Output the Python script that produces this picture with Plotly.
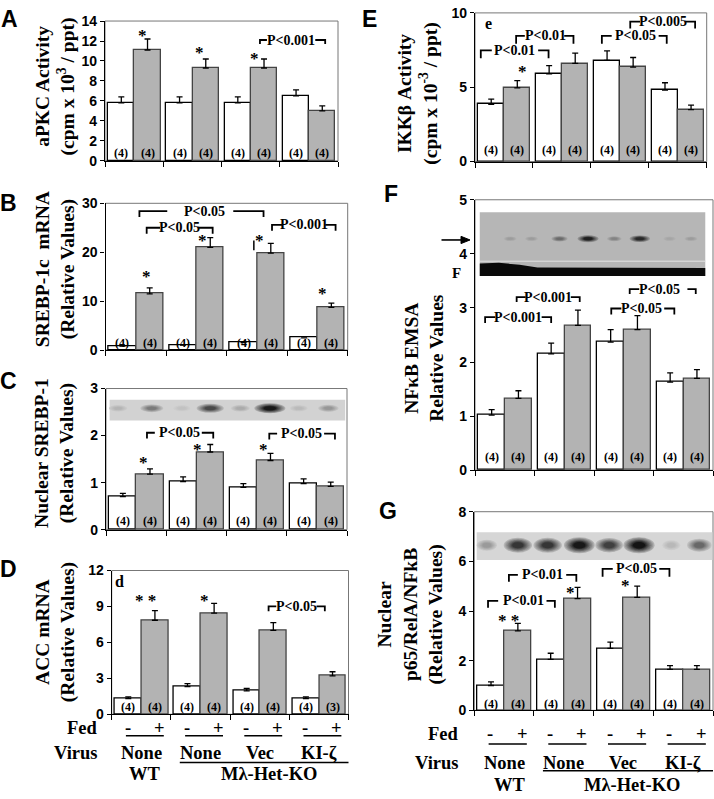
import plotly.graph_objects as go

W, H = 714, 799
SERIF = "Liberation Serif, Times New Roman, serif"
SANS = "Liberation Sans, Arial, sans-serif"

# ---------------- data (groups: WT/None, Mλ/None, Mλ/Vec, Mλ/KI-ζ) ----------------
groups = ["None", "None", "Vec", "KI-ζ"]

A_fasted = [5.8, 5.8, 5.8, 6.5]
A_fasted_err = [0.6, 0.6, 0.6, 0.6]
A_fed = [11.1, 9.3, 9.3, 5.0]
A_fed_err = [1.1, 0.9, 0.9, 0.5]

B_fasted = [0.8, 1.0, 1.5, 2.5]
B_fasted_err = [0.0, 0.0, 0.0, 0.0]
B_fed = [11.5, 21.0, 19.8, 8.7]
B_fed_err = [1.2, 2.0, 2.0, 0.9]

C_fasted = [0.70, 1.02, 0.90, 0.98]
C_fasted_err = [0.07, 0.10, 0.08, 0.10]
C_fed = [1.18, 1.65, 1.47, 0.92]
C_fed_err = [0.11, 0.16, 0.15, 0.09]

D_fasted = [1.3, 2.3, 1.95, 1.3]
D_fasted_err = [0.15, 0.25, 0.2, 0.15]
D_fed = [7.85, 8.45, 7.0, 3.2]
D_fed_err = [0.8, 0.8, 0.65, 0.35]

E_fasted = [3.85, 5.9, 6.8, 4.8]
E_fasted_err = [0.35, 0.55, 0.65, 0.5]
E_fed = [4.95, 6.6, 6.35, 3.5]
E_fed_err = [0.5, 0.7, 0.65, 0.3]

F_fasted = [1.02, 2.15, 2.37, 1.63]
F_fasted_err = [0.1, 0.2, 0.23, 0.17]
F_fed = [1.33, 2.68, 2.6, 1.7]
F_fed_err = [0.14, 0.28, 0.26, 0.16]

G_fasted = [1.0, 2.05, 2.5, 1.65]
G_fasted_err = [0.15, 0.25, 0.25, 0.15]
G_fed = [3.2, 4.5, 4.55, 1.65]
G_fed_err = [0.3, 0.45, 0.45, 0.15]

n_fasted = ["(4)", "(4)", "(4)", "(4)"]
n_fed = ["(4)", "(4)", "(4)", "(4)"]
n_fed_D = ["(4)", "(4)", "(4)", "(3)"]

# blot band intensities (0..1) for the 8 lanes
C_blot = [0.15, 0.45, 0.08, 0.7, 0.2, 0.95, 0.12, 0.3]
F_blot = [0.15, 0.15, 0.45, 0.9, 0.3, 0.85, 0.1, 0.15]
G_blot = [0.3, 0.8, 0.8, 0.95, 0.75, 0.97, 0.15, 0.55]

# ---------------- layout helpers ----------------
def px(x):
    return x / W

def py(y):
    return 1 - y / H

def B(t):
    return "<b>" + t + "</b>"

panels = [
    dict(k="", letter="A", dx=(105, 338), dy=(13.3, 156), ymax=14, dtick=2,
         fa=A_fasted, fae=A_fasted_err, fe=A_fed, fee=A_fed_err, nf=n_fasted, ne=n_fed, nshift=8,
         title="aPKC Activity<br>(cpm x 10<sup>3</sup> / ppt)", txy=(55, 80), lxy=(9, 11)),
    dict(k="2", letter="B", dx=(105.5, 347.7), dy=(199.3, 349), ymax=30, dtick=10,
         fa=B_fasted, fae=B_fasted_err, fe=B_fed, fee=B_fed_err, nf=n_fasted, ne=n_fed, nshift=7.5,
         title="SREBP-1c  mRNA<br>(Relative Values)", txy=(55.5, 267), lxy=(8, 199)),
    dict(k="3", letter="C", dx=(106, 347), dy=(388.3, 532.3), ymax=3, dtick=1,
         fa=C_fasted, fae=C_fasted_err, fe=C_fed, fee=C_fed_err, nf=n_fasted, ne=n_fed, nshift=9,
         title="Nuclear SREBP-1<br>(Relative Values)", txy=(55, 454), lxy=(8, 381)),
    dict(k="4", letter="D", dx=(111.7, 348.5), dy=(574, 720.7), ymax=12, dtick=3,
         fa=D_fasted, fae=D_fasted_err, fe=D_fed, fee=D_fed_err, nf=n_fasted, ne=n_fed_D, nshift=7.5,
         title="ACC mRNA<br>(Relative Values)", txy=(55, 637), lxy=(8.5, 572)),
    dict(k="5", letter="E", dx=(475, 706.7), dy=(5, 156.7), ymax=10, dtick=5,
         fa=E_fasted, fae=E_fasted_err, fe=E_fed, fee=E_fed_err, nf=n_fasted, ne=n_fed, nshift=12,
         title="IKKβ Activity<br>(cpm x 10<sup>-3</sup> / ppt)", txy=(417.5, 88), lxy=(369, 11)),
    dict(k="6", letter="F", dx=(475, 713), dy=(195.7, 471.7), ymax=5, dtick=1,
         fa=F_fasted, fae=F_fasted_err, fe=F_fed, fee=F_fed_err, nf=n_fasted, ne=n_fed, nshift=13,
         title="NFκB EMSA<br>Relative Values", txy=(424, 357), lxy=(391, 190)),
    dict(k="7", letter="G", dx=(474.3, 713), dy=(514, 716.7), ymax=8, dtick=2,
         fa=G_fasted, fae=G_fasted_err, fe=G_fed, fee=G_fed_err, nf=n_fasted, ne=n_fed, nshift=6,
         title="Nuclear<br>p65/RelA/NFkB<br>(Relative Values)", txy=(411, 619), lxy=(388, 513)),
]

X_FASTED = [g + 0.28 for g in range(4)]
X_FED = [g + 0.73 for g in range(4)]
BW = 0.45

fig = go.Figure()
shapes = []
annos = []
layout = {}

for p in panels:
    k = p["k"]
    xr, yr = "x" + k, "y" + k
    fig.add_trace(go.Bar(
        x=X_FASTED, y=p["fa"], width=BW, xaxis=xr, yaxis=yr,
        marker=dict(color="white", line=dict(color="black", width=1.3)),
        error_y=dict(type="data", array=p["fae"], arrayminus=[0] * 4, symmetric=False,
                     color="black", thickness=1.3, width=3),
        showlegend=False, hoverinfo="skip"))
    fig.add_trace(go.Bar(
        x=X_FED, y=p["fe"], width=BW, xaxis=xr, yaxis=yr,
        marker=dict(color="#b3b3b3", line=dict(color="#444444", width=1.3)),
        error_y=dict(type="data", array=p["fee"], arrayminus=[0] * 4, symmetric=False,
                     color="black", thickness=1.3, width=3),
        showlegend=False, hoverinfo="skip"))
    layout["xaxis" + k] = dict(
        domain=[px(p["dx"][0]), px(p["dx"][1])], anchor=yr, range=[0, 4],
        showline=True, linecolor="black", linewidth=1.3, ticks="outside", ticklen=5,
        tickcolor="black", tickwidth=1, tickvals=[0, 1, 2, 3, 4], showticklabels=False,
        showgrid=False, zeroline=False, fixedrange=True)
    layout["yaxis" + k] = dict(
        domain=[py(p["dy"][1]), py(p["dy"][0])], anchor=xr, range=[0, p["ymax"]],
        dtick=p["dtick"], tick0=0, showline=True, linecolor="black", linewidth=1.3,
        ticks="outside", ticklen=4, tickcolor="black", showgrid=False, zeroline=False,
        tickprefix="<b>", ticksuffix="</b>",
        tickfont=dict(family=SANS, size=14, color="black"), fixedrange=True)
    shapes.append(dict(type="rect", xref=xr + " domain", yref=yr + " domain", x0=0, x1=1, y0=0, y1=1,
                       line=dict(color="#777777", width=1), layer="below"))
    for g in range(4):
        for xx, t in ((X_FASTED[g], p["nf"][g]), (X_FED[g], p["ne"][g])):
            annos.append(dict(x=xx, y=0, xref=xr, yref=yr, text=B(t), showarrow=False,
                              yanchor="middle", yshift=p["nshift"],
                              font=dict(family=SERIF, size=12, color="black")))
    annos.append(dict(x=px(p["txy"][0]), y=py(p["txy"][1]), xref="paper", yref="paper",
                      text=B(p["title"]), textangle=-90, showarrow=False, xanchor="center", yanchor="middle",
                      font=dict(family=SERIF, size=19.5, color="black")))
    annos.append(dict(x=px(p["lxy"][0]), y=py(p["lxy"][1]), xref="paper", yref="paper",
                      text=B(p["letter"]), showarrow=False, xanchor="center", yanchor="middle",
                      font=dict(family=SANS, size=23, color="black")))

pan = {p["letter"]: p for p in panels}

def ppu(p):
    return (p["dy"][1] - p["dy"][0]) / p["ymax"]

# ---------------- significance brackets ----------------
# (panel, x_left, x_right, y, left seg end, right seg start, label x, label, tick px)
brackets = [
    ("A", 2.66, 3.78, 12.1, 2.78, 3.61, 3.19, "P<0.001", 4),
    ("B", 0.56, 2.61, 28.4, 1.02, 2.11, 1.63, "P<0.05", 6),
    ("B", 0.68, 1.77, 25.0, 0.90, 1.53, 1.22, "P<0.05", 6),
    ("B", 2.75, 3.80, 25.6, 2.92, 3.63, 3.28, "P<0.001", 6),
    ("C", 0.68, 1.78, 2.06, 0.81, 1.59, 1.22, "P<0.05", 6),
    ("C", 2.71, 3.80, 2.04, 2.84, 3.62, 3.24, "P<0.05", 6),
    ("D", 2.65, 3.60, 9.0, 2.78, 3.46, 3.12, "P<0.05", 5),
    ("E", 0.10, 1.27, 7.48, 0.29, 1.09, 0.69, "P<0.01", 8),
    ("E", 0.71, 1.70, 8.46, 0.86, 1.54, 1.21, "P<0.01", 8),
    ("E", 2.19, 3.31, 8.46, 2.36, 3.17, 2.77, "P<0.05", 8),
    ("E", 2.68, 3.80, 9.41, 2.85, 3.63, 3.24, "P<0.005", 7),
    ("F", 0.17, 1.28, 2.83, 0.34, 1.12, 0.73, "P<0.001", 6),
    ("F", 0.70, 1.76, 3.20, 0.85, 1.61, 1.23, "P<0.001", 5),
    ("F", 2.29, 3.35, 2.99, 2.46, 3.18, 2.80, "P<0.05", 6),
    ("F", 2.60, 3.71, 3.35, 2.76, 3.57, 3.10, "P<0.05", 5),
    ("G", 0.23, 1.35, 4.41, 0.40, 1.21, 0.82, "P<0.01", 7),
    ("G", 0.58, 1.71, 5.46, 0.73, 1.54, 1.14, "P<0.01", 7),
    ("G", 2.15, 3.27, 5.70, 2.32, 3.10, 2.71, "P<0.05", 8),
]
for (L, x1, x2, y, sl, sr, xt, lab, tk) in brackets:
    p = pan[L]
    xr, yr = "x" + p["k"], "y" + p["k"]
    yt = y - tk / ppu(p)
    shapes.append(dict(type="path", xref=xr, yref=yr,
                       path=f"M {x1},{yt} L {x1},{y} L {sl},{y}", line=dict(color="black", width=1.8)))
    shapes.append(dict(type="path", xref=xr, yref=yr,
                       path=f"M {sr},{y} L {x2},{y} L {x2},{yt}", line=dict(color="black", width=1.8)))
    annos.append(dict(x=xt, y=y, xref=xr, yref=yr, text=B(lab), showarrow=False,
                      xanchor="center", yanchor="middle", yshift=0,
                      font=dict(family=SERIF, size=14, color="black")))

# ---------------- asterisks and small labels ----------------
stars = [
    ("A", 0.64, 12.6, "*"), ("A", 1.63, 10.8, "*"), ("A", 2.56, 10.2, "*"),
    ("B", 0.67, 15.0, "*"), ("B", 1.60, 22.4, "*"), ("B", 2.55, 22.4, "*"), ("B", 3.59, 11.5, "*"),
    ("C", 0.62, 1.42, "*"), ("C", 1.52, 1.70, "*"), ("C", 2.61, 1.70, "*"),
    ("D", 0.57, 9.5, "* *"), ("D", 1.56, 9.5, "*"),
    ("E", 0.82, 6.04, "*"),
    ("G", 0.57, 3.62, "* *"), ("G", 1.61, 4.74, "*"), ("G", 2.54, 5.02, "*"),
]
for (L, x, y, t) in stars:
    p = pan[L]
    annos.append(dict(x=x, y=y, xref="x" + p["k"], yref="y" + p["k"], text=B(t), showarrow=False,
                      xanchor="center", yanchor="middle", yshift=0,
                      font=dict(family=SERIF, size=17, color="black")))
shapes.append(dict(type="line", xref="x2", yref="y2", x0=2.45, x1=2.45, y0=20.4, y1=22.4,
                   line=dict(color="black", width=1.5)))
for (L, x, y, t) in (("D", 0.14, 11.1, "d"), ("E", 0.23, 9.3, "e")):
    p = pan[L]
    annos.append(dict(x=x, y=y, xref="x" + p["k"], yref="y" + p["k"], text=B(t), showarrow=False,
                      xanchor="center", yanchor="middle",
                      font=dict(family=SERIF, size=16, color="black")))

# ---------------- blots ----------------
def gray(v):
    v = int(max(0, min(255, v)))
    return f"rgb({v},{v},{v})"

def blot(L, x0, x1, y0, y1, base, lanes, inten, yc, hw, hh):
    p = pan[L]
    xr, yr = "x" + p["k"], "y" + p["k"]
    shapes.append(dict(type="rect", xref=xr, yref=yr, x0=x0, x1=x1, y0=y0, y1=y1,
                       fillcolor=gray(base), line=dict(width=0)))
    steps = 8
    for lx, t in zip(lanes, inten):
        w = hw * (0.55 + 0.55 * t)
        h = hh * (0.6 + 0.5 * t)
        for i in range(steps):
            s = 1.0 - 0.6 * i / (steps - 1)
            f = 0.2 + 0.8 * i / (steps - 1)
            shapes.append(dict(type="circle", xref=xr, yref=yr, x0=lx - w * s, x1=lx + w * s,
                               y0=yc - h * s, y1=yc + h * s, fillcolor=gray(base - (base - 15) * t * f),
                               line=dict(width=0)))

blot("C", 0.06, 3.97, 2.32, 2.76, 210, [0.2, 0.76, 1.26, 1.73, 2.23, 2.72, 3.2, 3.69], C_blot, 2.58, 0.24, 0.1)
blot("F", 0.08, 3.87, 3.59, 4.77, 182, [0.59, 0.95, 1.42, 1.90, 2.34, 2.77, 3.27, 3.63], F_blot, 4.28, 0.17, 0.06)
shapes.append(dict(type="path", xref="x6", yref="y6",
                   path="M 0.08,3.59 L 0.08,3.82 L 0.4,3.835 L 0.75,3.80 L 1.05,3.75 L 3.87,3.74 L 3.87,3.59 Z",
                   fillcolor="#0a0a0a", line=dict(width=0)))
shapes.append(dict(type="line", xref="x6", yref="y6", x0=0.08, x1=3.87, y0=3.865, y1=3.865,
                   line=dict(color="#e4e4e4", width=1)))
blot("G", 0.04, 3.99, 6.06, 7.17, 214, [0.21, 0.73, 1.23, 1.76, 2.26, 2.76, 3.30, 3.77], G_blot, 6.65, 0.24, 0.3)

# arrow pointing at the NFκB band, and free-probe "F" label
shapes.append(dict(type="line", xref="paper", yref="paper", x0=px(441.5), x1=px(463), y0=py(236.7), y1=py(236.7),
                   line=dict(color="black", width=1.6)))
shapes.append(dict(type="path", xref="paper", yref="paper",
                   path=f"M {px(470)},{py(236.7)} L {px(461)},{py(233)} L {px(461)},{py(240.4)} Z",
                   fillcolor="black", line=dict(color="black", width=1)))
annos.append(dict(x=px(456.5), y=py(270), xref="paper", yref="paper", text=B("F"), showarrow=False,
                  font=dict(family=SERIF, size=15, color="black")))

# ---------------- bottom condition labels (panels D and G) ----------------
def bottom(L, y_pm, y_ul, y_vir, y_line, y_gen, x_right, wt_x, ko_x):
    p = pan[L]
    xr = "x" + p["k"]
    f = dict(family=SERIF, size=18.5, color="black")
    annos.append(dict(x=px(x_right), y=py(y_pm), xref="paper", yref="paper", text=B("Fed"),
                      showarrow=False, xanchor="right", yanchor="middle", font=f))
    annos.append(dict(x=px(x_right), y=py(y_vir), xref="paper", yref="paper", text=B("Virus"),
                      showarrow=False, xanchor="right", yanchor="middle", font=f))
    for g in range(4):
        annos.append(dict(x=g + 0.27, y=py(y_pm), xref=xr, yref="paper", text=B("-"),
                          showarrow=False, xanchor="center", yanchor="middle", font=f))
        annos.append(dict(x=g + 0.80, y=py(y_pm), xref=xr, yref="paper", text=B("+"),
                          showarrow=False, xanchor="center", yanchor="middle", font=f))
        shapes.append(dict(type="line", xref=xr, yref="paper", x0=g + 0.24, x1=g + 0.88,
                           y0=py(y_ul), y1=py(y_ul), line=dict(color="black", width=1.5)))
        annos.append(dict(x=g + 0.5, y=py(y_vir), xref=xr, yref="paper", text=B(groups[g]),
                          showarrow=False, xanchor="center", yanchor="middle", font=f))
    shapes.append(dict(type="line", xref=xr, yref="paper", x0=1.15, x1=4.02,
                       y0=py(y_line), y1=py(y_line), line=dict(color="black", width=1.5)))
    annos.append(dict(x=wt_x, y=py(y_gen), xref=xr, yref="paper", text=B("WT"),
                      showarrow=False, xanchor="center", yanchor="middle", font=f))
    annos.append(dict(x=ko_x, y=py(y_gen), xref=xr, yref="paper", text=B("Mλ-Het-KO"),
                      showarrow=False, xanchor="center", yanchor="middle", font=f))

bottom("D", 735, 742.7, 760, 770, 782, 100, 0.56, 2.66)
bottom("G", 740.7, 751, 770, 778.3, 792.5, 461, 0.6, 2.65)

fig.update_layout(
    width=W, height=H, autosize=False, margin=dict(l=0, r=0, t=0, b=0),
    paper_bgcolor="white", plot_bgcolor="white", barmode="overlay", bargap=0,
    font=dict(family=SERIF, color="black"),
    shapes=shapes, annotations=annos, showlegend=False, **layout)

fig.write_html("out.html", config={"displayModeBar": False},
               post_script="document.body.style.margin='0';document.body.style.padding='0';")
